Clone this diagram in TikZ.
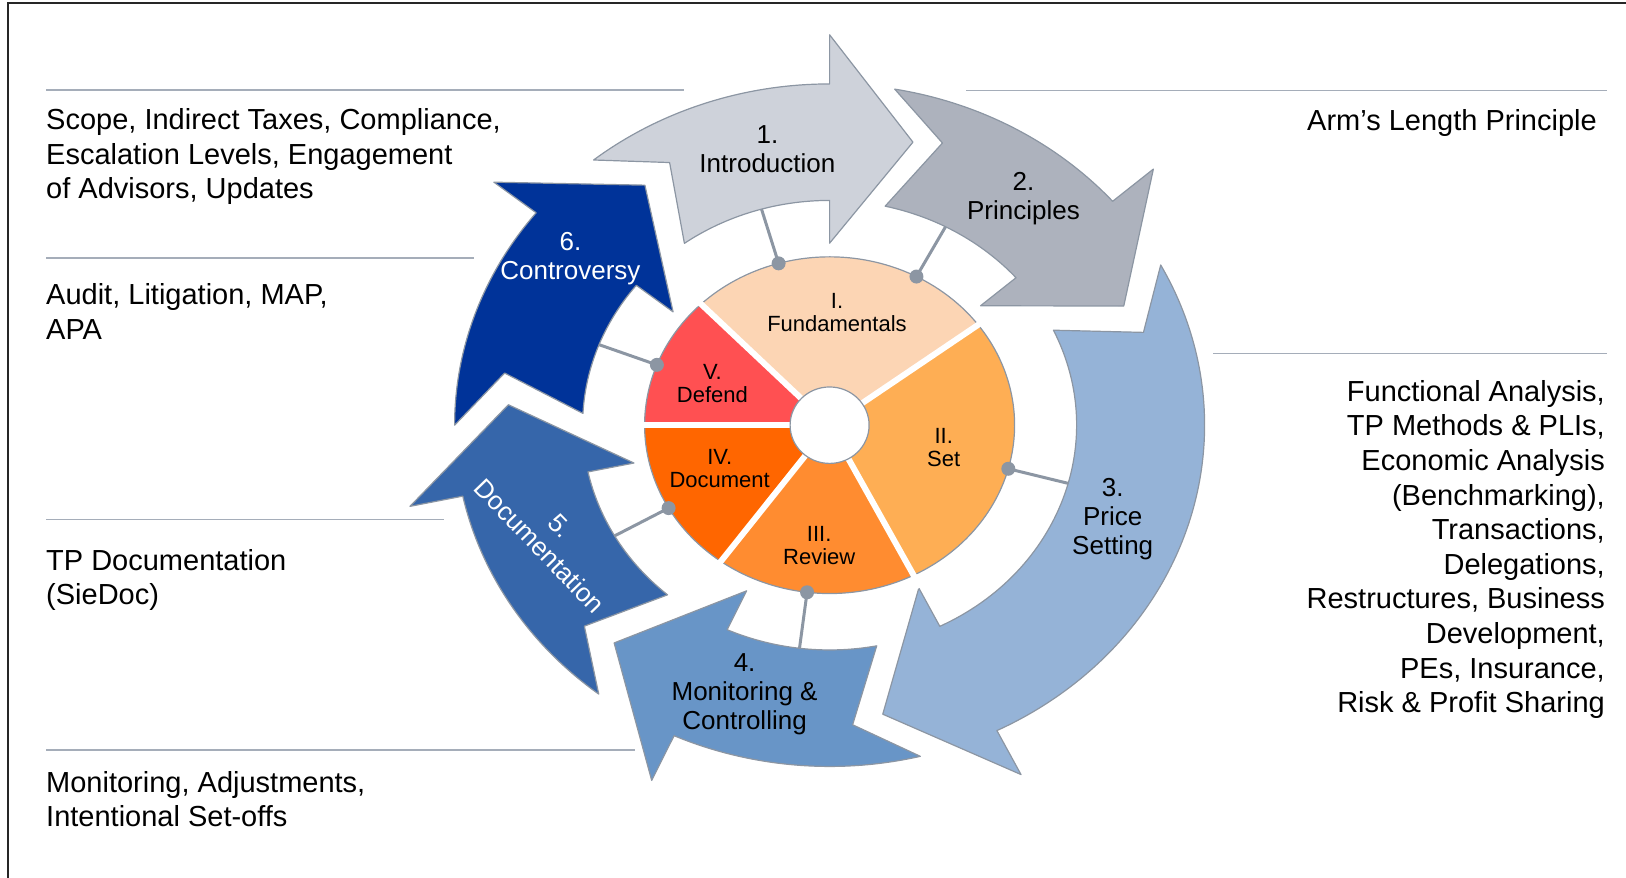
\documentclass[tikz,border=0pt]{standalone}
\usepackage{fontspec}
\setmainfont{Liberation Sans}
\definecolor{intro}{RGB}{206,210,218}
\definecolor{princ}{RGB}{173,178,189}
\definecolor{price}{RGB}{149,179,215}
\definecolor{monit}{RGB}{104,149,199}
\definecolor{docum}{RGB}{54,102,170}
\definecolor{contro}{RGB}{0,51,153}
\definecolor{fund}{RGB}{252,213,180}
\definecolor{setc}{RGB}{254,174,84}
\definecolor{review}{RGB}{255,140,48}
\definecolor{docu}{RGB}{255,102,0}
\definecolor{defend}{RGB}{255,80,82}
\definecolor{edge}{RGB}{140,150,163}
\definecolor{rulegray}{RGB}{165,173,185}

\begin{document}
\begin{tikzpicture}[x=1pt,y=1pt,
  ring/.style={draw=edge, line width=1.2pt, line join=round},
  rim/.style={draw=edge, line width=1.2pt},
  lab/.style={align=center, font=\fontsize{26}{29}\selectfont},
  sub/.style={align=center, font=\fontsize{22}{23}\selectfont},
  side/.style={inner sep=0pt, font=\fontsize{29}{34.6}\selectfont},
  rule/.style={draw=rulegray, line width=1.5pt},
  link/.style={draw=edge, line width=3pt},
  dot/.style={circle, fill=edge, minimum size=14pt, inner sep=0pt}]
  \useasboundingbox (0,0) rectangle (1626,878);
  \draw[black!85, line width=1.5pt] (8,0) -- (8,875) -- (1626,875);

  \begin{scope}[shift={(829.6,452.8)}, yscale=0.91]
    \foreach \t/\h/\p/\c in {119/90/75/intro, 70/41/24/princ, 18/-63.5/-80.5/price,
        -86/-114.5/-132/monit, -138/-168/-184/docum, -190/-218.5/-235/contro}
      \draw[ring, fill=\c] ({\t+10}:375) arc[start angle=\t+10, end angle=\h, radius=375]
        -- (\h:429) -- (\p:322) -- (\h:200) -- (\h:247)
        arc[start angle=\h, end angle=\t+7, radius=247] -- (\t:330) -- cycle;
    \foreach \a/\b/\c in {36.6/134/fund, 134/180/defend, 180/234/docu, 234/297/review, 297/396.6/setc} {
      \fill[\c] (0,0) -- (\a:185) arc[start angle=\a, end angle=\b, radius=185] -- cycle;
      \draw[rim] (\a:185) arc[start angle=\a, end angle=\b, radius=185];
    }
    \foreach \a in {36.6,134,180,234,297}
      \draw[white, line width=6pt] (0,0) -- (\a:200);
    \draw[rim, fill=white] (0,0) circle[x radius=39.5, y radius=42];
    \foreach \n/\a in {1/106, 2/62, 3/-15, 4/-97, 5/-150.5, 6/159} {
      \coordinate (d\n) at (\a:185);
      \coordinate (e\n) at (\a:247);
    }
  \end{scope}

  \foreach \n in {1,...,6} {
    \draw[link] (d\n) -- (e\n);
    \node[dot] at (d\n) {};
  }

  \node[lab] (Intro) at (767.4,728.7) {1.\\Introduction};
  \node[lab] (Princ) at (1023.5,679) {2.\\Principles};
  \node[lab] (Price) at (1112.7,359) {3.\\Price\\Setting};
  \node[lab] (Monit) at (744.6,184) {4.\\Monitoring \&\\Controlling};
  \node[lab, white, rotate=-46] (Docum) at (549.6,342) {5.\\Documentation};
  \node[lab, white] (Contro) at (570.4,619) {6.\\Controversy};

  \node[sub] (Fund) at (837,565) {I.\\Fundamentals};
  \node[sub] (Set) at (943.7,430.5) {II.\\Set};
  \node[sub] (Rev) at (819.2,332.5) {III.\\Review};
  \node[sub] (Doc) at (719.7,409.3) {IV.\\Document};
  \node[sub] (Def) at (712.4,494.3) {V.\\Defend};

  \draw[rule] (46,788) -- (684,788);
  \draw[rule] (46,620) -- (474,620);
  \draw[rule] (46,358.5) -- (444,358.5);
  \draw[rule] (46,128.2) -- (635,128.2);
  \draw[rule] (966,787.3) -- (1607,787.3);
  \draw[rule] (1213,524.7) -- (1607,524.7);

  \node[side, anchor=north west, align=left] (Scope) at (46,769.7)
    {Scope, Indirect Taxes, Compliance,\\Escalation Levels, Engagement\\of Advisors, Updates};
  \node[side, anchor=north west, align=left] (Audit) at (46,594.5) {Audit, Litigation, MAP,\\APA};
  \node[side, anchor=north west, align=left] (TPDoc) at (46,329) {TP Documentation\\(SieDoc)};
  \node[side, anchor=north west, align=left] (Adjust) at (46,107) {Monitoring, Adjustments,\\Intentional Set-offs};
  \node[side, anchor=north east] (Arm) at (1597,769) {Arm's Length Principle};
  \node[side, anchor=north east, align=right] (Func) at (1605,498)
    {Functional Analysis,\\TP Methods \& PLIs,\\Economic Analysis\\(Benchmarking),\\Transactions,\\Delegations,\\Restructures, Business\\Development,\\PEs, Insurance,\\Risk \& Profit Sharing};
\end{tikzpicture}
\end{document}
